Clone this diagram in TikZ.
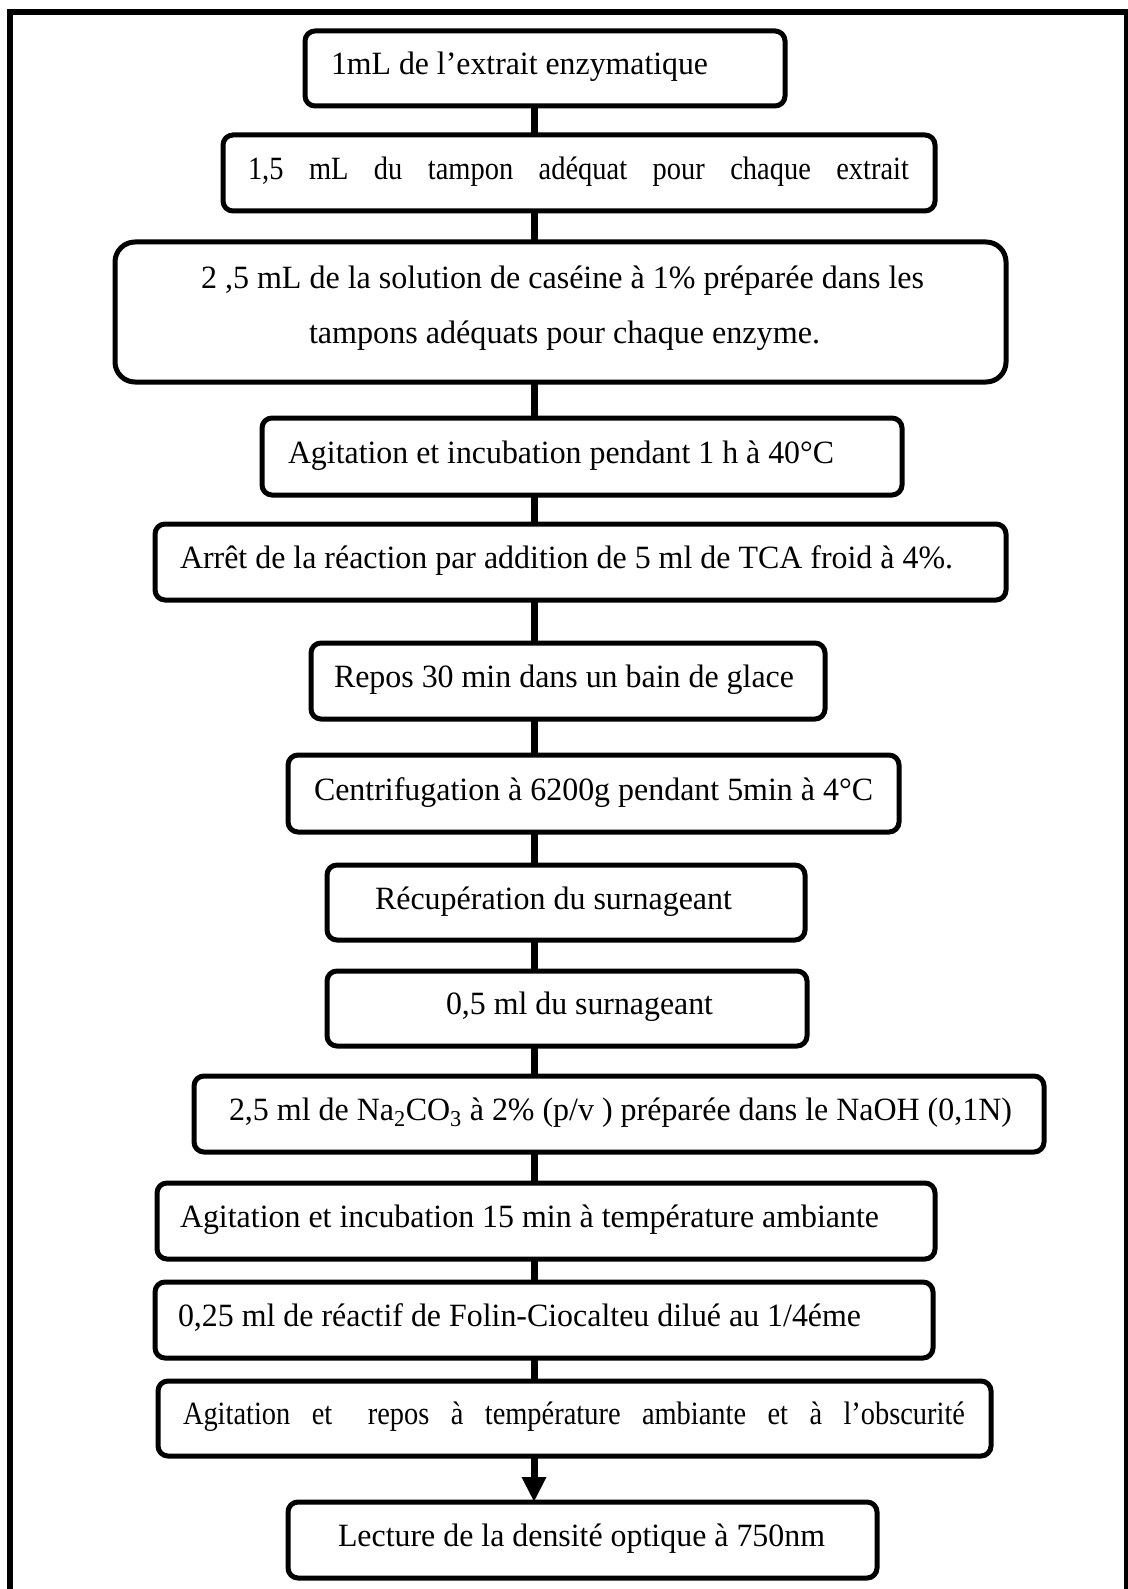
\documentclass[tikz,border=0pt]{standalone}
\usepackage{fontspec}
\setmainfont{Liberation Serif}
\usepackage{graphicx}
\usetikzlibrary{arrows.meta}
\newcommand\steptext[4]{\node[txt, anchor=base west] (#1) at (#2) {\resizebox{#3pt}{\height}{#4}};}
\begin{document}
\begin{tikzpicture}[x=1pt,y=-1pt,
  box/.style={draw, line width=5pt, rounded corners=10pt, inner sep=0pt, outer sep=0pt},
  txt/.style={inner sep=0pt, outer sep=0pt, font=\fontsize{32.5}{38}\selectfont},
  link/.style={line width=7pt},
  frame/.style={line width=5.5pt}]
\useasboundingbox (0,0) rectangle (1127,1589);
\coordinate (cx) at (534,0);
\coordinate (fbl) at (10,1600);
\coordinate (ftl) at (10,12);
\coordinate (ftr) at (1127,12);
\coordinate (fbr) at (1127,1600);
\draw[frame] (fbl) -- (ftl) -- (ftr) -- (fbr);

\node[box, minimum width=480pt, minimum height=75pt] (b1) at (545,68.5) {};
\node[box, minimum width=712pt, minimum height=76pt] (b2) at (579,173) {};
\node[box, minimum width=891pt, minimum height=140pt, rounded corners=20pt] (b3) at (560.5,312) {};
\node[box, minimum width=640pt, minimum height=77pt] (b4) at (582,456.5) {};
\node[box, minimum width=851pt, minimum height=76pt] (b5) at (580.5,562) {};
\node[box, minimum width=514pt, minimum height=76pt] (b6) at (568,681) {};
\node[box, minimum width=611pt, minimum height=77pt] (b7) at (593.5,793.5) {};
\node[box, minimum width=478pt, minimum height=75pt] (b8) at (566,902.5) {};
\node[box, minimum width=480pt, minimum height=75pt] (b9) at (567,1008.5) {};
\node[box, minimum width=850pt, minimum height=76pt] (b10) at (619,1114) {};
\node[box, minimum width=778pt, minimum height=76pt] (b11) at (546,1221) {};
\node[box, minimum width=778pt, minimum height=76pt] (b12) at (544,1320) {};
\node[box, minimum width=833pt, minimum height=75pt] (b13) at (574.5,1418.5) {};
\node[box, minimum width=589pt, minimum height=76pt] (b14) at (582.5,1540) {};

\steptext{t1}{331,75}{377}{1mL de l’extrait enzymatique}
\steptext{t2}{248,180}{661}{\makebox[755pt][s]{1,5 mL du tampon adéquat pour chaque extrait}}
\steptext{t3a}{201,288}{723}{2 ,5 mL de la solution de caséine à 1\% préparée dans les}
\steptext{t3b}{309,343}{511}{tampons adéquats pour chaque enzyme.}
\steptext{t4}{288,463}{546}{Agitation et incubation pendant 1 h à 40°C}
\steptext{t5}{180,568}{773}{Arrêt de la réaction par addition de 5 ml de TCA froid à 4\%.}
\steptext{t6}{334,687}{460}{Repos 30 min dans un bain de glace}
\steptext{t7}{314,800}{559}{Centrifugation à 6200g pendant 5min à 4°C}
\steptext{t8}{375,909}{357}{Récupération du surnageant}
\steptext{t9}{446,1014}{267}{0,5 ml du surnageant}
\steptext{t10}{229,1120}{783}{2,5 ml de Na\textsubscript{2}CO\textsubscript{3} à 2\% (p/v ) préparée dans le NaOH (0,1N)}
\steptext{t11}{180,1227}{699}{Agitation et incubation 15 min à température ambiante}
\steptext{t12}{178,1326}{683}{0,25 ml de réactif de Folin-Ciocalteu dilué au 1/4éme}
\steptext{t13}{183,1424}{782}{\makebox[894pt][s]{Agitation et\hspace{0.5em} repos à température ambiante et à l’obscurité}}
\steptext{t14}{338,1546.5}{487}{Lecture de la densité optique à 750nm}

\foreach \a/\b in {b1/b2,b2/b3,b3/b4,b4/b5,b5/b6,b6/b7,b7/b8,b8/b9,b9/b10,b10/b11,b11/b12,b12/b13}
  \draw[link] (\a.south -| cx) -- (\b.north -| cx);
\draw[link, -{Triangle[width=23pt,length=25pt]}] (b13.south -| cx) -- (b14.north -| cx);
\end{tikzpicture}
\end{document}
